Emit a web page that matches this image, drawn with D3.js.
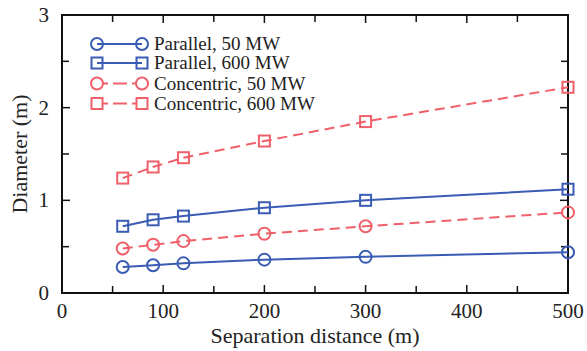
<!DOCTYPE html>
<html><head><meta charset="utf-8">
<script src="https://cdn.jsdelivr.net/npm/d3@7"></script>
<style>body{margin:0;background:#fff}svg{display:block}text{font-family:"Liberation Serif","Times New Roman",serif;fill:#222}</style>
</head><body><svg id="c" width="587" height="351"></svg>
<script>
const distances = [60, 90, 120, 200, 300, 500];
const parallel50 = [0.28, 0.30, 0.32, 0.36, 0.39, 0.44];
const parallel600 = [0.72, 0.79, 0.83, 0.92, 1.00, 1.12];
const concentric50 = [0.48, 0.52, 0.56, 0.64, 0.72, 0.87];
const concentric600 = [1.24, 1.36, 1.46, 1.64, 1.85, 2.22];
const seriesNames = ["Parallel, 50 MW", "Parallel, 600 MW", "Concentric, 50 MW", "Concentric, 600 MW"];
const xTicks = [0, 100, 200, 300, 400, 500];
const yTicks = [0, 1, 2, 3];

const blue = "#3a5cb4", red = "#f0606a";
const series = [
  {name: seriesNames[0], values: parallel50, color: blue, dash: null, marker: "circle"},
  {name: seriesNames[1], values: parallel600, color: blue, dash: null, marker: "square"},
  {name: seriesNames[2], values: concentric50, color: red, dash: "10,6", marker: "circle"},
  {name: seriesNames[3], values: concentric600, color: red, dash: "10,6", marker: "square"}
];

const svg = d3.select("#c");
const L = 62, R = 568, T = 15, B = 293;
const x = d3.scaleLinear().domain([0, 500]).range([L, R]);
const y = d3.scaleLinear().domain([0, 3]).range([B, T]);

// ticks (inside, mirrored)
const g = svg.append("g").attr("stroke", "#111").attr("stroke-width", 1.5);
d3.range(0, 501, 50).forEach(v => {
  const len = v % 100 === 0 ? 8 : 7;
  g.append("line").attr("x1", x(v)).attr("x2", x(v)).attr("y1", B).attr("y2", B - len);
  g.append("line").attr("x1", x(v)).attr("x2", x(v)).attr("y1", T).attr("y2", T + len);
});
d3.range(0, 3.01, 0.5).forEach(v => {
  const len = Number.isInteger(v) ? 8 : 7;
  g.append("line").attr("y1", y(v)).attr("y2", y(v)).attr("x1", L).attr("x2", L + len);
  g.append("line").attr("y1", y(v)).attr("y2", y(v)).attr("x1", R).attr("x2", R - len);
});
svg.append("rect").attr("x", L).attr("y", T).attr("width", R - L).attr("height", B - T)
  .attr("fill", "none").attr("stroke", "#111").attr("stroke-width", 2);

// tick labels
svg.selectAll(".xt").data(xTicks).enter().append("text")
  .attr("x", d => x(d)).attr("y", 318).attr("text-anchor", "middle")
  .style("font-size", "21px").text(d => d);
svg.selectAll(".yt").data(yTicks).enter().append("text")
  .attr("x", 49).attr("y", d => y(d) + 7).attr("text-anchor", "end")
  .style("font-size", "21px").text(d => d);

// axis titles
svg.append("text").attr("x", 315).attr("y", 343).attr("text-anchor", "middle")
  .style("font-size", "22px").text("Separation distance (m)");
svg.append("text").attr("transform", `translate(27,${(T + B) / 2}) rotate(-90)`)
  .attr("text-anchor", "middle").style("font-size", "22px").text("Diameter (m)");

function marker(sel, type, cx, cy, color) {
  if (type === "circle") {
    sel.append("circle").attr("cx", cx).attr("cy", cy).attr("r", 6)
      .attr("fill", "none").attr("stroke", color).attr("stroke-width", 2);
  } else {
    sel.append("rect").attr("x", cx - 5.5).attr("y", cy - 5.5).attr("width", 11).attr("height", 11)
      .attr("fill", "none").attr("stroke", color).attr("stroke-width", 2);
  }
}

const line = d3.line().x((d, i) => x(distances[i])).y(d => y(d));
series.forEach(s => {
  svg.append("path").attr("d", line(s.values)).attr("fill", "none")
    .attr("stroke", s.color).attr("stroke-width", 2)
    .attr("stroke-dasharray", s.dash);
  const mg = svg.append("g");
  s.values.forEach((v, i) => marker(mg, s.marker, x(distances[i]), y(v), s.color));
});

// legend
const legY = [44, 63, 83.5, 103.5];
series.forEach((s, i) => {
  const lg = svg.append("g");
  const yy = legY[i];
  if (s.dash) {
    lg.append("line").attr("x1", 103).attr("x2", 108).attr("y1", yy).attr("y2", yy)
      .attr("stroke", s.color).attr("stroke-width", 2);
    lg.append("line").attr("x1", 113).attr("x2", 127).attr("y1", yy).attr("y2", yy)
      .attr("stroke", s.color).attr("stroke-width", 2);
    lg.append("line").attr("x1", 132).attr("x2", 136).attr("y1", yy).attr("y2", yy)
      .attr("stroke", s.color).attr("stroke-width", 2);
  } else {
    lg.append("line").attr("x1", 97).attr("x2", 142).attr("y1", yy).attr("y2", yy)
      .attr("stroke", s.color).attr("stroke-width", 2);
  }
  marker(lg, s.marker, 97, yy, s.color);
  marker(lg, s.marker, 142, yy, s.color);
  lg.append("text").attr("x", 154).attr("y", yy + 6).style("font-size", "19px").text(s.name);
});
</script></body></html>
